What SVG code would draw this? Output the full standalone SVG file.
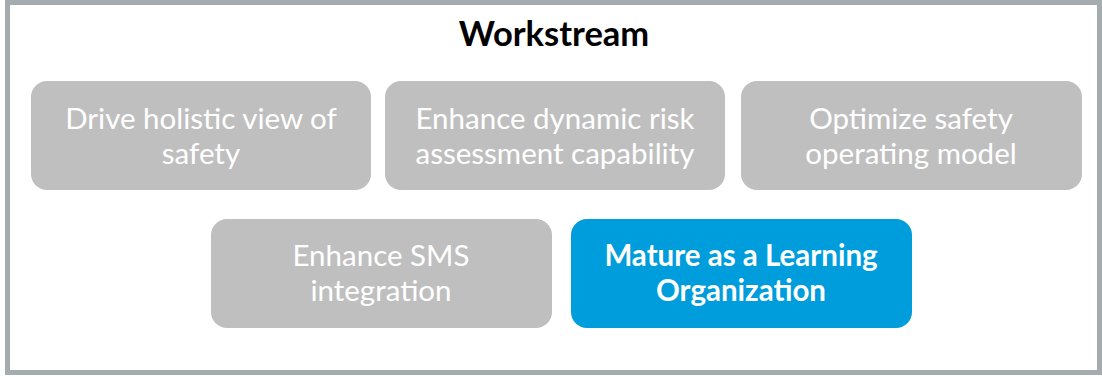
<svg xmlns="http://www.w3.org/2000/svg" width="1102" height="377" viewBox="0 0 1102 377">
<style>
.frame{fill:#fff;stroke:#A5ACAF;stroke-width:5}
.box{fill:#BFBFBF}
.hl{fill:#009DDC}
.t{font-family:Lato,"Open Sans",sans-serif;font-size:29.5px;fill:#fff;text-anchor:middle}
.b{font-weight:bold}
.title{font-family:Lato,"Open Sans",sans-serif;font-size:34.5px;font-weight:bold;fill:#000;text-anchor:middle}
</style>
<rect class="frame" x="7.5" y="2.5" width="1092" height="370"/>
<g id="title"><text class="title" x="554" y="46">Workstream</text></g>
<g id="n1"><rect class="box" x="31" y="81" width="340" height="109" rx="16"/>
<text class="t" x="201" y="129">Drive holistic view of</text><text class="t" x="201" y="164">safety</text></g>
<g id="n2"><rect class="box" x="385" y="81" width="340" height="109" rx="16"/>
<text class="t" x="555" y="129">Enhance dynamic risk</text><text class="t" x="555" y="164">assessment capability</text></g>
<g id="n3"><rect class="box" x="741" y="81" width="341" height="109" rx="16"/>
<text class="t" x="911" y="129">Optimize safety</text><text class="t" x="911" y="164">operating model</text></g>
<g id="n4"><rect class="box" x="211" y="219" width="341" height="109" rx="16"/>
<text class="t" x="381" y="266">Enhance SMS</text><text class="t" x="381" y="301">integration</text></g>
<g id="n5"><rect class="hl" x="571" y="219" width="341" height="109" rx="16"/>
<text class="t b" x="741" y="266">Mature as a Learning</text><text class="t b" x="741" y="301">Organization</text></g>
<g id="connectors"/>
</svg>
